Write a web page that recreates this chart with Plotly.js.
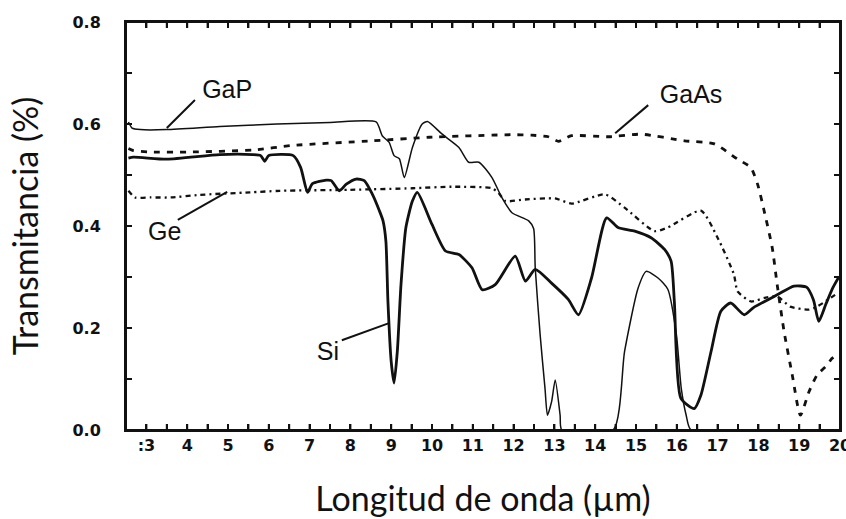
<!DOCTYPE html>
<html>
<head>
<meta charset="utf-8">
<script src="https://cdn.plot.ly/plotly-3.0.1.min.js"></script>
<style>html,body{margin:0;padding:0;background:#fff;}#chart{width:846px;height:519px;}</style>
</head>
<body>
<div id="chart"></div>
<script>
// Wavelength (µm) and transmittance values
const gapX = [2.56, 2.65, 2.85, 3.5, 4.8, 6.2, 7.5, 8.63, 8.78, 8.95, 9.07, 9.20, 9.32, 9.52, 9.76, 9.89, 10.25, 10.66, 10.90, 11.15, 11.47, 11.71, 11.96, 12.37, 12.49, 12.53, 12.65, 12.77, 12.83, 12.93, 13.02, 13.14, 13.18, 14.44, 14.72, 15.05, 15.25, 15.54, 15.78, 15.99, 16.11, 16.23, 16.35, 20.0];
const gapY = [0.604, 0.592, 0.589, 0.589, 0.595, 0.600, 0.603, 0.604, 0.577, 0.564, 0.538, 0.532, 0.495, 0.554, 0.600, 0.605, 0.580, 0.554, 0.525, 0.525, 0.495, 0.456, 0.426, 0.410, 0.395, 0.318, 0.187, 0.081, 0.029, 0.055, 0.098, 0.029, 0.0, 0.0, 0.154, 0.278, 0.311, 0.298, 0.276, 0.187, 0.081, 0.029, 0.0, 0.0];

const siX = [2.56, 2.68, 3.5, 4.8, 5.6, 5.80, 5.90, 6.0, 6.6, 6.78, 6.95, 7.07, 7.41, 7.53, 7.73, 7.90, 8.14, 8.34, 8.54, 8.71, 8.80, 8.87, 8.92, 9.00, 9.07, 9.15, 9.24, 9.36, 9.52, 9.64, 10.0, 10.33, 10.66, 10.98, 11.23, 11.55, 12.04, 12.29, 12.53, 12.93, 13.34, 13.59, 13.91, 14.28, 14.56, 14.97, 15.37, 15.70, 15.86, 15.94, 16.10, 16.43, 16.59, 16.84, 17.08, 17.32, 17.65, 17.88, 18.46, 18.87, 19.18, 19.35, 19.48, 19.65, 19.82, 19.98];
const siY = [0.533, 0.535, 0.531, 0.540, 0.540, 0.538, 0.527, 0.538, 0.538, 0.515, 0.466, 0.483, 0.490, 0.489, 0.469, 0.482, 0.492, 0.489, 0.462, 0.430, 0.410, 0.370, 0.252, 0.134, 0.092, 0.154, 0.285, 0.397, 0.449, 0.466, 0.403, 0.351, 0.344, 0.318, 0.275, 0.285, 0.341, 0.292, 0.315, 0.288, 0.256, 0.226, 0.298, 0.416, 0.397, 0.390, 0.377, 0.354, 0.331, 0.252, 0.062, 0.042, 0.068, 0.154, 0.233, 0.249, 0.226, 0.240, 0.265, 0.282, 0.280, 0.255, 0.213, 0.246, 0.278, 0.301];

const geX = [2.56, 2.72, 3.1, 3.6, 4.3, 5.54, 6.27, 8.0, 9.52, 10.49, 11.47, 11.63, 11.80, 12.28, 13.02, 13.42, 14.24, 14.72, 15.45, 15.78, 16.59, 17.0, 17.40, 17.49, 17.82, 18.15, 18.46, 18.78, 19.24, 19.44, 19.88];
const geY = [0.469, 0.456, 0.456, 0.456, 0.461, 0.466, 0.469, 0.471, 0.474, 0.477, 0.474, 0.465, 0.449, 0.452, 0.454, 0.444, 0.462, 0.436, 0.390, 0.397, 0.430, 0.377, 0.305, 0.272, 0.252, 0.259, 0.262, 0.242, 0.236, 0.242, 0.265];

const gaasX = [2.56, 2.68, 3.1, 4.0, 5.63, 6.59, 8.54, 9.93, 11.96, 12.44, 12.85, 13.10, 13.42, 14.32, 15.13, 16.19, 16.92, 17.49, 17.81, 17.98, 18.14, 18.34, 18.46, 18.63, 18.83, 19.03, 19.24, 19.44, 19.68, 19.80, 19.98];
const gaasY = [0.552, 0.548, 0.545, 0.545, 0.549, 0.558, 0.567, 0.574, 0.579, 0.578, 0.575, 0.566, 0.577, 0.575, 0.580, 0.567, 0.561, 0.531, 0.515, 0.482, 0.430, 0.357, 0.285, 0.193, 0.108, 0.029, 0.075, 0.108, 0.127, 0.140, 0.150];

const xTickVals = [3, 4, 5, 6, 7, 8, 9, 10, 11, 12, 13, 14, 15, 16, 17, 18, 19, 20];
const xTickText = [':3', '4', '5', '6', '7', '8', '9', '10', '11', '12', '13', '14', '15', '16', '17', '18', '19', '20'];
const yTickVals = [0, 0.2, 0.4, 0.6, 0.8];
const yTickText = ['0.0', '0.2', '0.4', '0.6', '0.8'];

const seriesNames = ['GaP', 'Si', 'Ge', 'GaAs'];
const xTitle = 'Longitud de onda (µm)';
const yTitle = 'Transmitancia (%)';

// ---- layout constants (not data) ----
const W = 846, H = 519;
const M = {l: 126, r: 6, t: 22, b: 89};
const xRange = [2.5, 20];
const yRange = [0, 0.8];
const xMinorStep = 0.5, yMinorStep = 0.1, tickPx = 6;

const labelPlacement = {
  GaP:  {text: [4.98, 0.663], leader: [[3.5, 0.592], [4.19, 0.647]]},
  GaAs: {text: [16.35, 0.653], leader: [[14.49, 0.582], [15.3, 0.637]]},
  Ge:   {text: [3.45, 0.385], leader: [[4.98, 0.467], [3.77, 0.412]]},
  Si:   {text: [7.45, 0.15], leader: [[8.93, 0.209], [7.79, 0.176]]}
};

const ink = '#111';
const traces = [
  {x: gapX, y: gapY, name: seriesNames[0], mode: 'lines', line: {color: ink, width: 1.5, shape: 'spline', smoothing: 0.6}},
  {x: siX, y: siY, name: seriesNames[1], mode: 'lines', line: {color: ink, width: 2.8, shape: 'spline', smoothing: 0.6}},
  {x: geX, y: geY, name: seriesNames[2], mode: 'lines', line: {color: ink, width: 2.3, dash: '5px,4px,2px,4px', shape: 'spline', smoothing: 0.6}},
  {x: gaasX, y: gaasY, name: seriesNames[3], mode: 'lines', line: {color: ink, width: 2.8, dash: '6px,7px', shape: 'spline', smoothing: 0.6}}
];

// Inside tick marks derived from the axis ranges (backup for the axis ticks)
const plotW = W - M.l - M.r, plotH = H - M.t - M.b;
const tdx = tickPx * (xRange[1] - xRange[0]) / plotW;
const tdy = tickPx * (yRange[1] - yRange[0]) / plotH;
const fx = [], fy = [];
const nX = Math.round((xRange[1] - xRange[0]) / xMinorStep);
for (let i = 1; i < nX; i++) {
  const v = xRange[0] + i * xMinorStep;
  fx.push(v, v, null, v, v, null);
  fy.push(yRange[0], yRange[0] + tdy, null, yRange[1], yRange[1] - tdy, null);
}
const nY = Math.round((yRange[1] - yRange[0]) / yMinorStep);
for (let i = 1; i < nY; i++) {
  const v = yRange[0] + i * yMinorStep;
  fx.push(xRange[0], xRange[0] + tdx, null, xRange[1], xRange[1] - tdx, null);
  fy.push(v, v, null, v, v, null);
}
traces.push({x: fx, y: fy, mode: 'lines', line: {color: ink, width: 2}, hoverinfo: 'skip', showlegend: false});

const leaderX = [], leaderY = [], lblX = [], lblY = [], lblT = [];
seriesNames.forEach(function(n) {
  const p = labelPlacement[n];
  leaderX.push(p.leader[0][0], p.leader[1][0], null);
  leaderY.push(p.leader[0][1], p.leader[1][1], null);
  lblX.push(p.text[0]); lblY.push(p.text[1]); lblT.push(n);
});
traces.push({x: leaderX, y: leaderY, mode: 'lines', line: {color: ink, width: 2}, hoverinfo: 'skip', showlegend: false});
traces.push({x: lblX, y: lblY, text: lblT, mode: 'text', textposition: 'middle center',
  textfont: {family: 'Liberation Sans, Arial, sans-serif', size: 25, color: ink}, hoverinfo: 'skip', showlegend: false});

const titleFont = {family: 'Lato, Open Sans, sans-serif', size: 34, color: ink};
const tickFont = {family: 'DejaVu Sans, Liberation Sans, sans-serif', size: 16, color: ink, weight: 'bold'};

const layout = {
  width: W, height: H,
  margin: M,
  paper_bgcolor: '#fff', plot_bgcolor: '#fff',
  showlegend: false, hovermode: false,
  xaxis: {
    range: xRange, tickmode: 'array', tickvals: xTickVals, ticktext: xTickText,
    ticks: 'inside', ticklen: tickPx, tickwidth: 2, tickcolor: ink,
    minor: {tick0: 0, dtick: xMinorStep, ticks: 'inside', ticklen: tickPx, tickwidth: 2, tickcolor: ink},
    showline: true, linewidth: 2, linecolor: ink, mirror: 'ticks', automargin: false,
    showgrid: false, zeroline: false,
    tickfont: tickFont, ticklabelstandoff: 0, ticklabeloverflow: 'allow',
    title: {text: xTitle, font: titleFont, standoff: 33}
  },
  yaxis: {
    range: yRange, tickmode: 'array', tickvals: yTickVals, ticktext: yTickText,
    ticks: 'inside', ticklen: tickPx, tickwidth: 2, tickcolor: ink,
    minor: {tick0: 0, dtick: yMinorStep, ticks: 'inside', ticklen: tickPx, tickwidth: 2, tickcolor: ink},
    showline: true, linewidth: 2, linecolor: ink, mirror: 'ticks', automargin: false,
    showgrid: false, zeroline: false,
    tickfont: tickFont, ticklabelstandoff: 20,
    title: {text: yTitle, font: titleFont, standoff: 24}
  },
  shapes: [
    {type: 'rect', xref: 'paper', yref: 'paper', x0: 0, x1: 1, y0: 0, y1: 1, line: {color: ink, width: 2}, fillcolor: 'rgba(0,0,0,0)', layer: 'above'}
  ]
};

Plotly.newPlot('chart', traces, layout, {displayModeBar: false, staticPlot: true}).then(function() {
  document.body.setAttribute('data-rendered', '1');
});
</script>
</body>
</html>
